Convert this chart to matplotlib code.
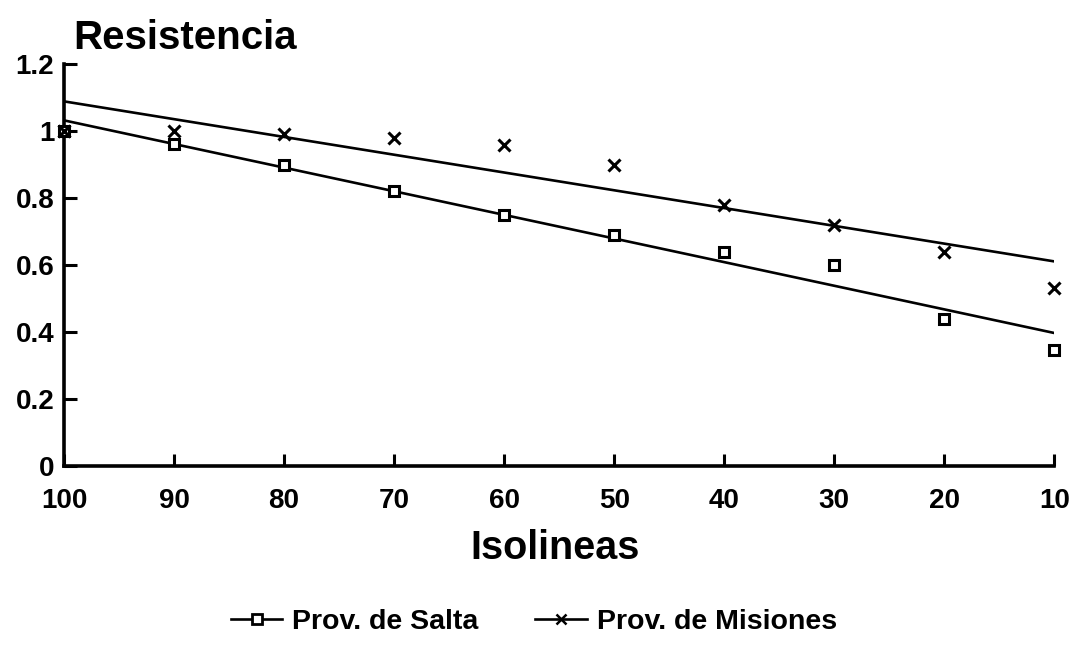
import numpy as np
import matplotlib
matplotlib.use("Agg")
import matplotlib.pyplot as plt
from matplotlib.lines import Line2D

# Data
isolineas = [100, 90, 80, 70, 60, 50, 40, 30, 20, 10]
salta = [1.00, 0.96, 0.90, 0.82, 0.75, 0.69, 0.64, 0.60, 0.44, 0.345]
misiones = [1.00, 1.00, 0.99, 0.98, 0.957, 0.90, 0.78, 0.72, 0.64, 0.53]
x_ticks = [100, 90, 80, 70, 60, 50, 40, 30, 20, 10]
y_ticks = [0, 0.2, 0.4, 0.6, 0.8, 1.0, 1.2]
y_ticklabels = ["0", "0.2", "0.4", "0.6", "0.8", "1", "1.2"]

plt.rcParams['font.family'] = ['Liberation Sans', 'DejaVu Sans']
plt.rcParams['font.weight'] = 'bold'

fig = plt.figure(figsize=(10.74, 6.50), dpi=100)
ax = fig.add_axes([0.0596, 0.283, 0.922, 0.6185])

x = np.array(isolineas, dtype=float)
for ys, mk in [(salta, 's'), (misiones, 'x')]:
    ys = np.array(ys)
    coef = np.polyfit(x, ys, 1)
    xl = np.array([100.0, 10.0])
    ax.plot(xl, np.polyval(coef, xl), color='black', lw=1.9, zorder=2)
    if mk == 's':
        ax.plot(x, ys, linestyle='none', marker='s', markersize=7.5,
                markerfacecolor='white', markeredgecolor='black', markeredgewidth=2.2,
                zorder=3, clip_on=False)
    else:
        ax.plot(x, ys, linestyle='none', marker='x', markersize=8,
                color='black', markeredgewidth=2.2, zorder=3, clip_on=False)

ax.set_xlim(100, 10)
ax.set_ylim(0, 1.2)
ax.set_xticks(x_ticks)
ax.set_xticklabels([str(v) for v in x_ticks], fontsize=20, fontweight='bold')
ax.set_yticks(y_ticks)
ax.set_yticklabels(y_ticklabels, fontsize=20, fontweight='bold')
ax.tick_params(axis='both', direction='in', length=9, width=2.2, color='black')
ax.tick_params(axis='x', pad=16)
ax.tick_params(axis='y', pad=7)
for s in ['top', 'right']:
    ax.spines[s].set_visible(False)
for s in ['left', 'bottom']:
    ax.spines[s].set_linewidth(2.6)

fig.text(0.068, 0.942, "Resistencia", fontsize=29, fontweight='bold', ha='left', va='center')
fig.text(0.517, 0.157, "Isolineas", fontsize=28.5, fontweight='bold', ha='center', va='center')

handles = [
    Line2D([0], [0], color='black', lw=1.9, marker='s', markersize=6.5,
           markerfacecolor='white', markeredgecolor='black', markeredgewidth=2.0),
    Line2D([0], [0], color='black', lw=1.9, marker='x', markersize=7, markeredgewidth=1.8),
]
fig.legend(handles, ["Prov. de Salta", "Prov. de Misiones"], loc='center',
           bbox_to_anchor=(0.497, 0.043), ncol=2, frameon=False,
           prop={'size': 20.5, 'weight': 'bold'}, handlelength=1.8, handletextpad=0.35,
           columnspacing=2.0, borderpad=0.1)

fig.savefig("out.png", dpi=100, facecolor='white')
